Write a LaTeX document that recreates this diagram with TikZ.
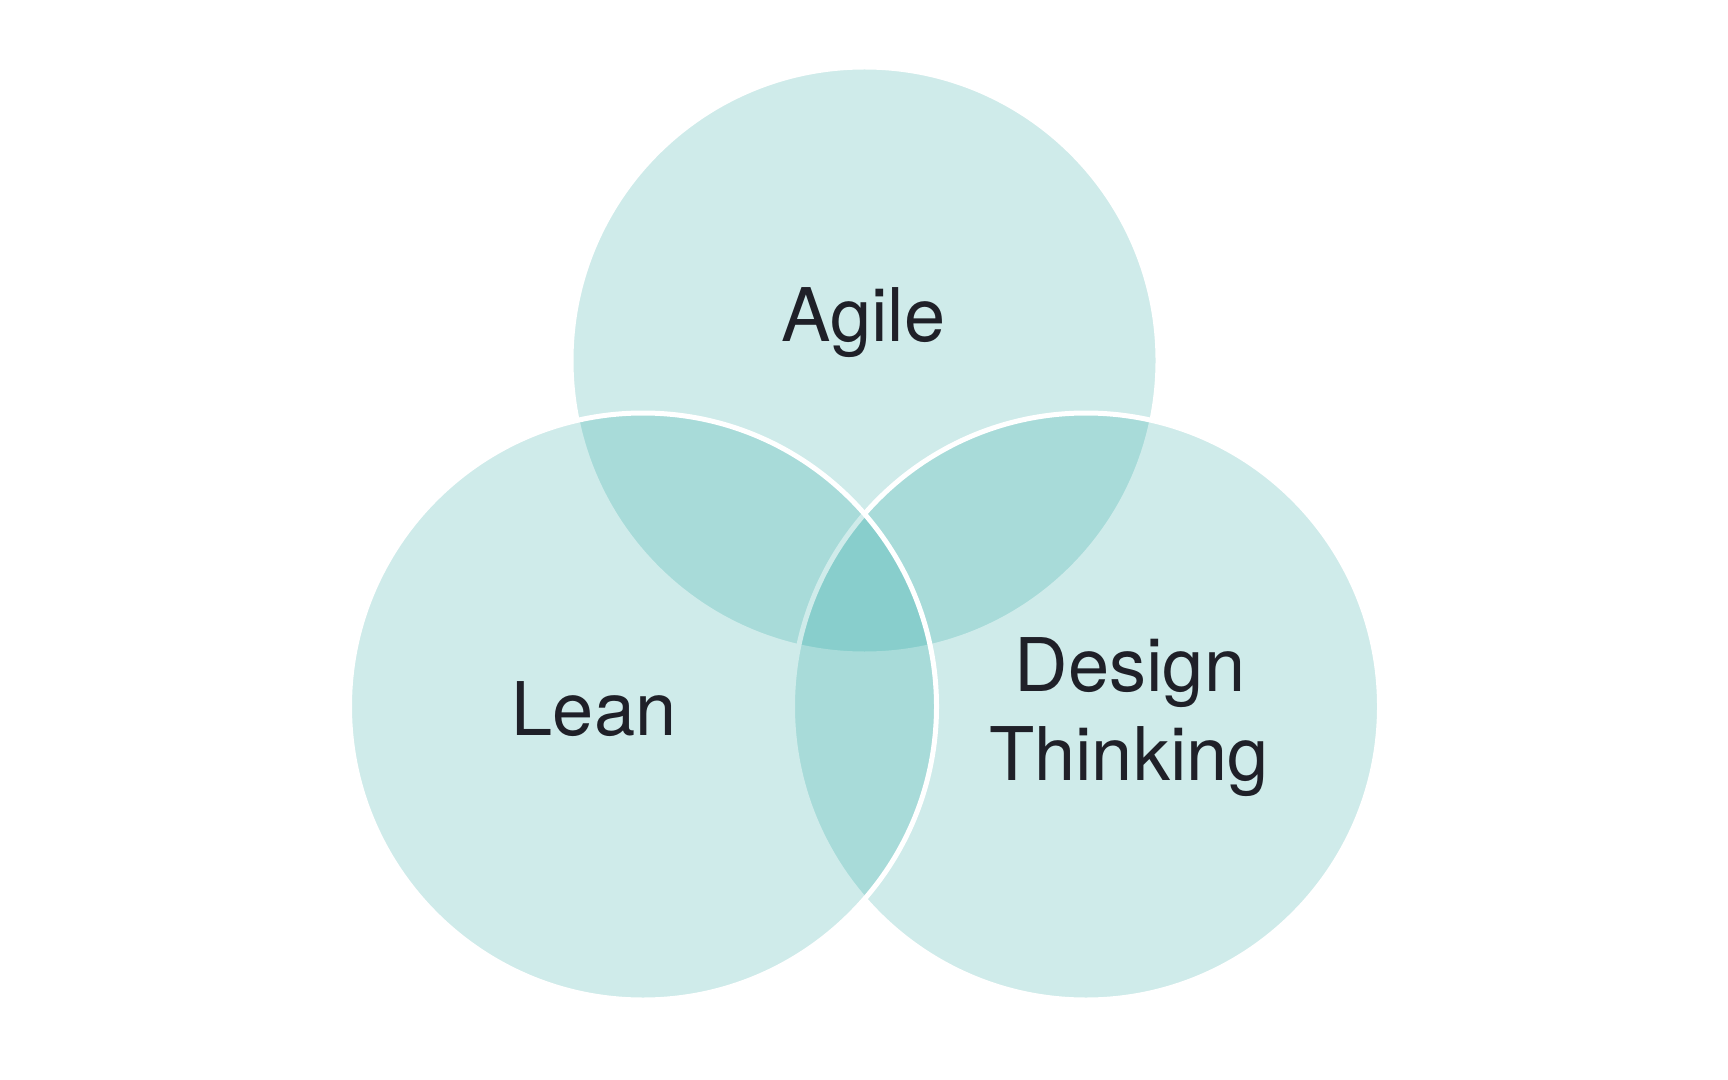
\documentclass[tikz,border=0pt]{standalone}
\usepackage{fontspec}
\setmainfont{TeX Gyre Heros}
\definecolor{vennfill}{RGB}{0,153,148}
\definecolor{labeltext}{RGB}{31,32,40}
\begin{document}
\begin{tikzpicture}[x=0.5pt,y=-0.5pt,
  venn/.style={circle, inner sep=0pt, minimum size=293.5pt, fill=vennfill, fill opacity=0.19, draw=white, draw opacity=1, line width=2.5pt},
  vennlabel/.style={anchor=base, inner sep=0pt, text=labeltext, font=\fontsize{37}{44.5}\selectfont}]
  \fill[white] (0,0) rectangle (1728,1080);
  \useasboundingbox (0,0) rectangle (1728,1080);
  \node[venn] (agile) at (864.5,360.5) {};
  \node[venn] (design) at (1086,706.5) {};
  \node[venn] (lean) at (643,706.5) {};
  \node[vennlabel] (agiletext) at (863.5,342) {Agile};
  \node[vennlabel] (leantext) at (594,735) {Lean};
  \node[vennlabel] (designtext) at (1130,691) {Design};
  \node[vennlabel] (thinkingtext) at (1129,780) {Thinking};
\end{tikzpicture}
\end{document}
